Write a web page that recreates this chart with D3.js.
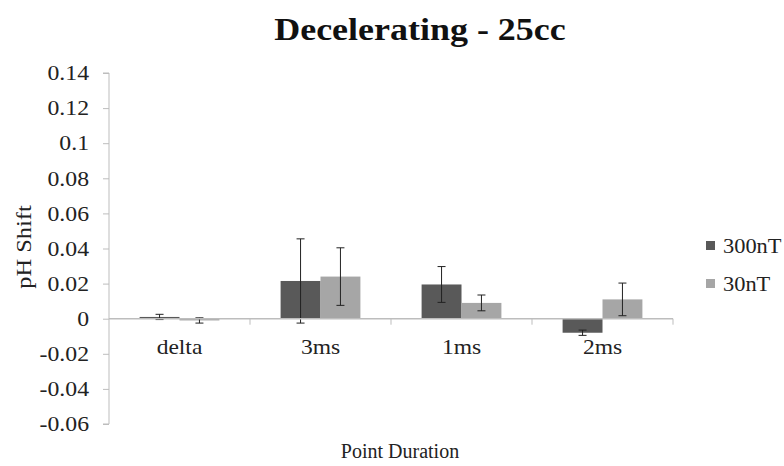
<!DOCTYPE html>
<html>
<head>
<meta charset="utf-8">
<script src="https://cdn.jsdelivr.net/npm/d3@7/dist/d3.min.js"></script>
<style>
  body { margin: 0; background: #fff; }
</style>
</head>
<body>
<svg id="chart" width="784" height="466"></svg>
<script>
// data
const categories = ['delta', '3ms', '1ms', '2ms'];
const seriesNames = ['300nT', '30nT'];
const values300 = [0.001, 0.0215, 0.0195, -0.008];
const errors300 = [0.0015, 0.024, 0.0102, 0.0015];
const values30 = [-0.001, 0.024, 0.009, 0.011];
const errors30 = [0.0015, 0.0164, 0.0045, 0.0093];
const yTicks = [-0.06, -0.04, -0.02, 0, 0.02, 0.04, 0.06, 0.08, 0.1, 0.12, 0.14];
const colors = ['#595959', '#a6a6a6'];

const FONT = '"Liberation Serif", "Times New Roman", serif';
const margin = { top: 73, left: 109 };
const width = 564, height = 351;

// the source text is drawn a little wider than the font's natural width
function widen(sel, factor) {
  sel.each(function () {
    const w = this.getComputedTextLength();
    d3.select(this).attr('textLength', w * factor).attr('lengthAdjust', 'spacingAndGlyphs');
  });
}

const svg = d3.select('#chart');
const chart = svg.append('g')
  .attr('transform', `translate(${margin.left},${margin.top})`);

const xScale = d3.scaleBand().domain(categories).range([0, width]).paddingInner(0.434).paddingOuter(0.217);
const xOuter = d3.scaleBand().domain(categories).range([0, width]);
const subScale = d3.scaleBand().domain(seriesNames).range([0, xScale.bandwidth()]);
const yScale = d3.scaleLinear().domain([-0.06, 0.14]).range([height, 0]);

// y axis
const yAxisG = chart.append('g')
  .call(d3.axisLeft(yScale).tickValues(yTicks).tickSize(6).tickPadding(14)
    .tickFormat(d => d === 0 ? '0' : String(+d.toFixed(2))));
yAxisG.select('.domain').attr('stroke', '#bdbdbd').attr('d', `M-6,0H0V${height}H-6`);
yAxisG.selectAll('.tick line').attr('stroke', '#bdbdbd');
yAxisG.selectAll('.tick text')
  .style('font-family', FONT).style('font-size', '21px').attr('fill', '#222')
  .call(widen, 1.13);

const rows = categories.map((c, i) => ({
  cat: c,
  bars: [
    { s: seriesNames[0], v: values300[i], e: errors300[i] },
    { s: seriesNames[1], v: values30[i], e: errors30[i] }
  ]
}));

// bars
const groups = chart.selectAll('.cat')
  .data(rows)
  .join('g')
  .attr('class', 'cat')
  .attr('transform', d => `translate(${xScale(d.cat)},0)`);

groups.selectAll('rect')
  .data(d => d.bars)
  .join('rect')
  .attr('x', d => subScale(d.s))
  .attr('width', subScale.bandwidth())
  .attr('y', d => yScale(Math.max(0, d.v)))
  .attr('height', d => Math.abs(yScale(d.v) - yScale(0)))
  .attr('fill', (d, i) => colors[i]);

// x axis line at zero with category separators
const y0 = yScale(0);
chart.append('line')
  .attr('x1', 0).attr('x2', width)
  .attr('y1', y0).attr('y2', y0)
  .attr('stroke', '#bdbdbd').attr('stroke-width', 1.5);
chart.selectAll('.sep')
  .data(categories)
  .join('line')
  .attr('class', 'sep')
  .attr('x1', d => xOuter(d) + xOuter.step())
  .attr('x2', d => xOuter(d) + xOuter.step())
  .attr('y1', y0).attr('y2', y0 + 6)
  .attr('stroke', '#bdbdbd');

// error bars
const err = groups.selectAll('.err')
  .data(d => d.bars)
  .join('g')
  .attr('class', 'err')
  .attr('transform', d => `translate(${subScale(d.s) + subScale.bandwidth() / 2},0)`);
err.append('line')
  .attr('y1', d => yScale(d.v + d.e)).attr('y2', d => yScale(d.v - d.e))
  .attr('stroke', '#222');
err.selectAll('.cap')
  .data(d => [d.v + d.e, d.v - d.e])
  .join('line')
  .attr('class', 'cap')
  .attr('x1', -4).attr('x2', 4)
  .attr('y1', d => yScale(d)).attr('y2', d => yScale(d))
  .attr('stroke', '#222');

// category labels
chart.selectAll('.catlabel')
  .data(categories)
  .join('text')
  .attr('class', 'catlabel')
  .attr('x', d => xOuter(d) + xOuter.bandwidth() / 2)
  .attr('y', y0 + 35)
  .attr('text-anchor', 'middle')
  .style('font-family', FONT).style('font-size', '21px').attr('fill', '#222')
  .text(d => d)
  .call(widen, 1.12);

// titles
svg.append('text')
  .attr('x', 420).attr('y', 40)
  .attr('text-anchor', 'middle')
  .style('font-family', FONT).style('font-size', '31px').style('font-weight', 'bold')
  .attr('fill', '#111')
  .text('Decelerating - 25cc')
  .call(widen, 1.16);

svg.append('text')
  .attr('transform', 'translate(31,247) rotate(-90)')
  .attr('text-anchor', 'middle')
  .style('font-family', FONT).style('font-size', '20px').attr('fill', '#222')
  .text('pH Shift')
  .call(widen, 1.22);

svg.append('text')
  .attr('x', 400).attr('y', 458)
  .attr('text-anchor', 'middle')
  .style('font-family', FONT).style('font-size', '20px').attr('fill', '#222')
  .text('Point Duration');

// legend
const legend = svg.append('g').attr('transform', 'translate(706,241)');
const items = legend.selectAll('g')
  .data(seriesNames)
  .join('g')
  .attr('transform', (d, i) => `translate(0,${i * 38})`);
items.append('rect')
  .attr('width', 9).attr('height', 9)
  .attr('fill', (d, i) => colors[i]);
items.append('text')
  .attr('x', 17).attr('y', 12)
  .style('font-family', FONT).style('font-size', '20px').attr('fill', '#222')
  .text(d => d)
  .call(widen, 1.12);
</script>
</body>
</html>
